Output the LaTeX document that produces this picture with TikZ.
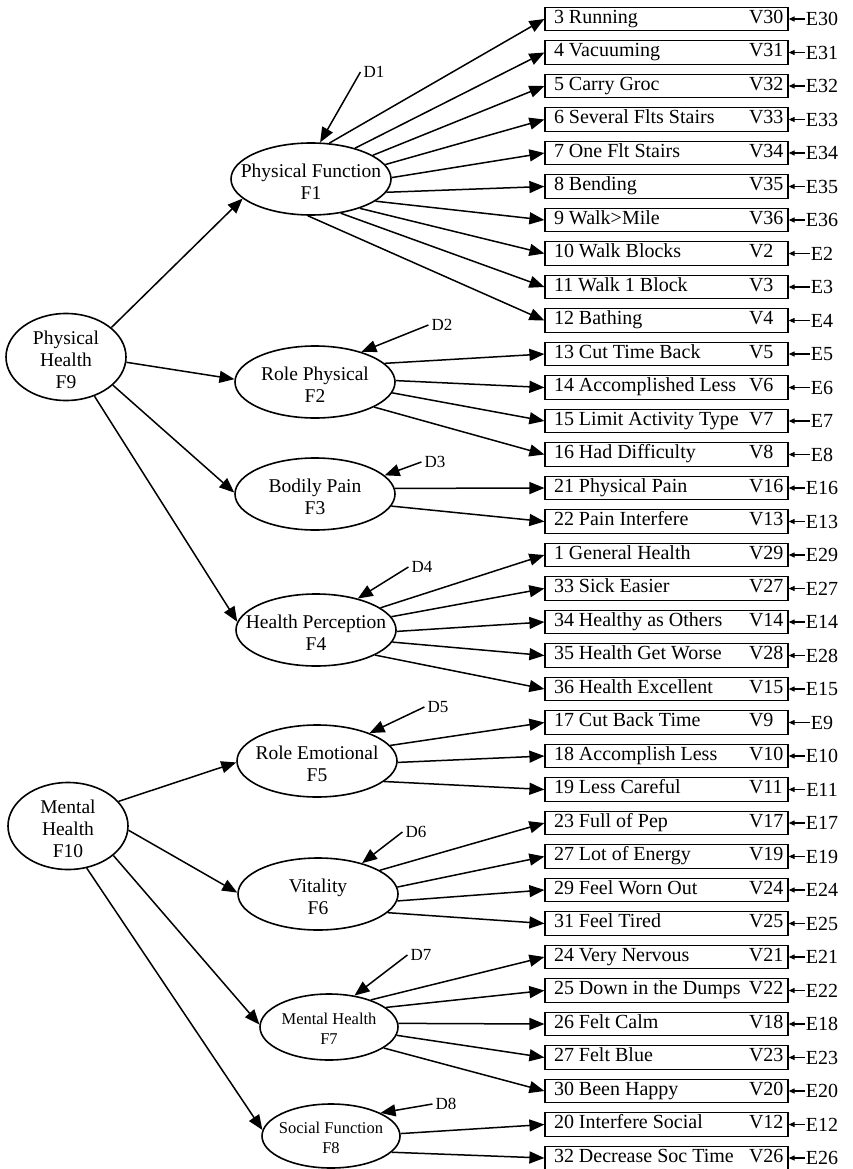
\documentclass[tikz,border=0pt]{standalone}
\usepackage{fontspec}
\setmainfont{Liberation Serif}
\usetikzlibrary{arrows.meta,shapes.geometric}

\tikzset{
  factor/.style={draw, ellipse, line width=1.6pt, inner sep=0pt, minimum width=160pt, minimum height=72pt},
  ftext/.style={align=center, inner sep=0pt, yshift=-3pt, font=\fontsize{19.5}{22}\selectfont},
  fsmall/.style={align=center, inner sep=0pt, yshift=-2pt, font=\fontsize{16.5}{19.5}\selectfont},
  indbox/.style={draw, line width=1.2pt, minimum height=23.5pt, minimum width=243pt, inner xsep=6pt, inner ysep=0pt, font=\fontsize{20}{22}\selectfont},
  errlbl/.style={inner sep=1pt, font=\fontsize{20}{22}\selectfont},
  distlbl/.style={inner sep=3pt, font=\fontsize{17}{19}\selectfont},
  loadarrow/.style={-{Triangle[length=15pt,width=12pt]}, line width=1.5pt},
  errarrow/.style={-{Triangle[length=6pt,width=5pt]}, line width=1.1pt}
}

\begin{document}
\begin{tikzpicture}[x=1pt, y=-1pt]
  \useasboundingbox (0,0) rectangle (853,1169);

  % observed variables with their error terms
  \foreach \i/\txt/\v in {0/3 Running/30, 1/4 Vacuuming/31, 2/5 Carry Groc/32,
      3/6 Several Flts Stairs/33, 4/7 One Flt Stairs/34, 5/8 Bending/35,
      6/9 Walk>Mile/36, 7/10 Walk Blocks/2, 8/11 Walk 1 Block/3, 9/12 Bathing/4,
      10/13 Cut Time Back/5, 11/14 Accomplished Less/6, 12/15 Limit Activity Type/7,
      13/16 Had Difficulty/8, 14/21 Physical Pain/16, 15/22 Pain Interfere/13,
      16/1 General Health/29, 17/33 Sick Easier/27, 18/34 Healthy as Others/14,
      19/35 Health Get Worse/28, 20/36 Health Excellent/15, 21/17 Cut Back Time/9,
      22/18 Accomplish Less/10, 23/19 Less Careful/11, 24/23 Full of Pep/17,
      25/27 Lot of Energy/19, 26/29 Feel Worn Out/24, 27/31 Feel Tired/25,
      28/24 Very Nervous/21, 29/25 Down in the Dumps/22, 30/26 Felt Calm/18,
      31/27 Felt Blue/23, 32/30 Been Happy/20, 33/20 Interfere Social/12,
      34/32 Decrease Soc Time/26}
  {
    \node[indbox] (V\v) at (666.5,{19+33.5*\i})
      {\strut\makebox[231pt][l]{\hspace*{3pt}\txt\hspace{4pt plus 1fill}\makebox[33pt][l]{V\v}}};
    \node[errlbl] (E\v) at (822,{19+33.5*\i}) {E\v};
    \draw[errarrow] (E\v.west) -- (V\v);
  }

  % first order factors
  \node[factor, label={[ftext]center:Physical Function\\F1}] (F1) at (311,179) {};
  \node[factor, label={[ftext]center:Role Physical\\F2}] (F2) at (315,382) {};
  \node[factor, label={[ftext]center:Bodily Pain\\F3}] (F3) at (315,494) {};
  \node[factor, label={[ftext]center:Health Perception\\F4}] (F4) at (316,630) {};
  \node[factor, label={[ftext]center:Role Emotional\\F5}] (F5) at (317,761) {};
  \node[factor, label={[ftext]center:Vitality\\F6}] (F6) at (318,894) {};
  \node[factor, minimum width=138pt, minimum height=66pt, label={[fsmall]center:Mental Health\\F7}] (F7) at (329,1027) {};
  \node[factor, minimum width=138pt, minimum height=64pt, label={[fsmall]center:Social Function\\F8}] (F8) at (331,1136) {};

  % second order factors
  \node[factor, minimum width=120pt, minimum height=87pt, label={[ftext]center:Physical\\Health\\F9}] (F9) at (66,357) {};
  \node[factor, minimum width=120pt, minimum height=87pt, label={[ftext]center:Mental\\Health\\F10}] (F10) at (68,826) {};

  % disturbances
  \node[distlbl] (D1) at (374,72) {D1};
  \node[distlbl] (D2) at (442,325) {D2};
  \node[distlbl] (D3) at (435,462) {D3};
  \node[distlbl] (D4) at (422,567) {D4};
  \node[distlbl] (D5) at (438,707) {D5};
  \node[distlbl] (D6) at (416,832) {D6};
  \node[distlbl] (D7) at (421,955) {D7};
  \node[distlbl] (D8) at (446,1104) {D8};
  \foreach \d/\a in {1/76, 2/33, 3/15, 4/37, 5/28, 6/35, 7/51, 8/25}
    \draw[loadarrow] (D\d.west) -- (F\d.\a);

  % second order paths
  \draw[loadarrow] (F9.33) -- (F1.196);
  \draw[loadarrow] (F9.355) -- (F2.178);
  \draw[loadarrow] (F9.329) -- (F3.179);
  \draw[loadarrow] (F9.306) -- (F4.174);
  \draw[loadarrow] (F10.26) -- (F5.181);
  \draw[loadarrow] (F10.356) -- (F6.179);
  \draw[loadarrow] (F10.327) -- (F7.178);
  \draw[loadarrow] (F10.294) -- (F8.175);

  % loadings
  \foreach \a/\v in {63/30, 35/31, 21/32, 11/33, 1/34, 350/35, 341/36, 329/2, 311/3, 265/4}
    \draw[loadarrow] (F1.\a) -- (V\v.west);
  \foreach \a/\v in {15/5, 1/6, 352/7, 337/8}
    \draw[loadarrow] (F2.\a) -- (V\v.west);
  \foreach \a/\v in {4/16, 351/13}
    \draw[loadarrow] (F3.\a) -- (V\v.west);
  \foreach \a/\v in {19/29, 10/27, 359/14, 351/28, 337/15}
    \draw[loadarrow] (F4.\a) -- (V\v.west);
  \foreach \a/\v in {12/9, 359/10, 343/11}
    \draw[loadarrow] (F5.\a) -- (V\v.west);
  \foreach \a/\v in {21/17, 5/19, 355/24, 345/25}
    \draw[loadarrow] (F6.\a) -- (V\v.west);
  \foreach \a/\v in {33/21, 19/22, 3/18, 353/23, 339/20}
    \draw[loadarrow] (F7.\a) -- (V\v.west);
  \foreach \a/\v in {2/12, 345/26}
    \draw[loadarrow] (F8.\a) -- (V\v.west);
\end{tikzpicture}
\end{document}
